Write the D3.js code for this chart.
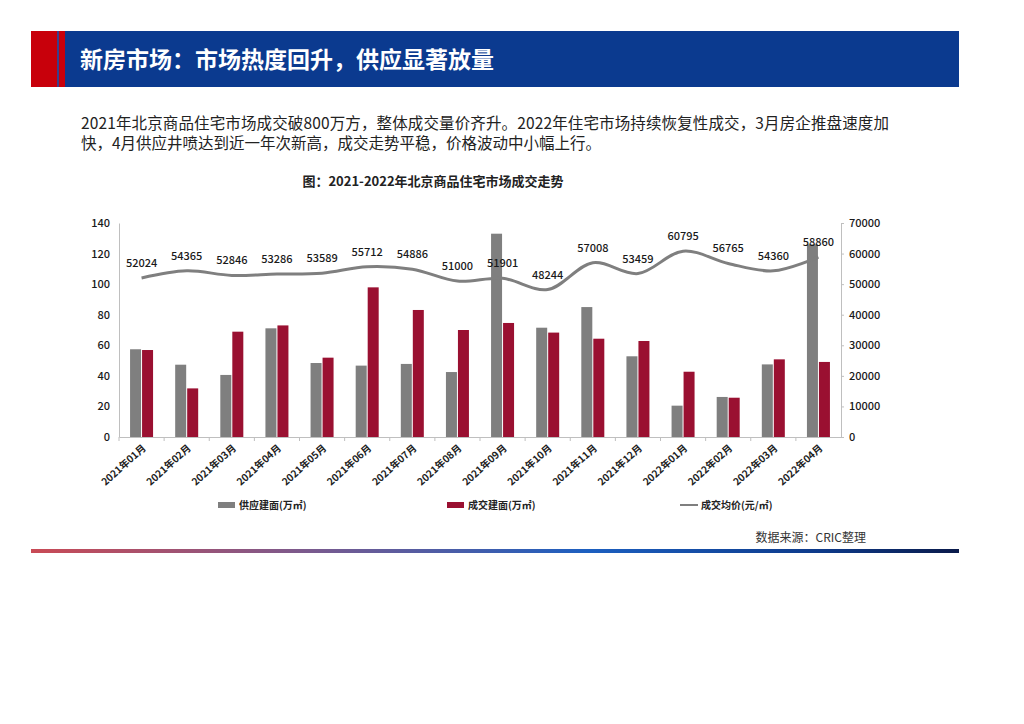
<!DOCTYPE html>
<html>
<head>
<meta charset="utf-8">
<script src="https://cdn.jsdelivr.net/npm/d3@7"></script>
<style>
  body { margin: 0; background: #fff; }
  text { font-family: "Noto Sans CJK SC", "Noto Sans", sans-serif; }
</style>
</head>
<body>
<div id="page"></div>
<script>
// chart data
var months = ["2021年01月", "2021年02月", "2021年03月", "2021年04月", "2021年05月", "2021年06月",
    "2021年07月", "2021年08月", "2021年09月", "2021年10月", "2021年11月", "2021年12月",
    "2022年01月", "2022年02月", "2022年03月", "2022年04月"];
var supply = [57.4, 47.3, 40.6, 71.1, 48.4, 46.7, 47.8, 42.5, 133.0, 71.5, 85.0, 52.8, 20.5, 26.2, 47.5, 126.0];
var deals = [56.9, 31.8, 68.9, 73.0, 51.9, 97.9, 83.1, 70.0, 74.6, 68.3, 64.3, 62.8, 42.7, 25.7, 50.8, 49.1];
var price = [52024, 54365, 52846, 53286, 53589, 55712, 54886, 51000, 51901, 48244, 57008, 53459, 60795, 56765, 54360, 58860];
var leftTicks = [0, 20, 40, 60, 80, 100, 120, 140];
var rightTicks = [0, 10000, 20000, 30000, 40000, 50000, 60000, 70000];
var legendNames = ["供应建面(万㎡)", "成交建面(万㎡)", "成交均价(元/㎡)"];

const w = 1024;
const h = 724;
const grayC = "#7f7f7f";
const redC = "#9a1031";

const svg = d3.select("#page")
    .append("svg")
    .attr("width", w)
    .attr("height", h);

// header bar
svg.append("rect").attr("x", 31).attr("y", 31).attr("width", 928).attr("height", 56).attr("fill", "#0b3a8f");
svg.append("rect").attr("x", 31).attr("y", 31).attr("width", 34).attr("height", 56).attr("fill", "#c8000b");
svg.append("rect").attr("x", 57).attr("y", 31).attr("width", 2).attr("height", 56).attr("fill", "#3a3f8c");
svg.append("text")
    .attr("x", 80).attr("y", 68)
    .attr("fill", "#fff")
    .attr("font-size", 23)
    .attr("font-weight", "bold")
    .text("新房市场：市场热度回升，供应显著放量");

// intro text
svg.append("text")
    .attr("x", 81).attr("y", 129)
    .attr("font-size", 15.5).attr("fill", "#222")
    .attr("textLength", 808).attr("lengthAdjust", "spacing")
    .text("2021年北京商品住宅市场成交破800万方，整体成交量价齐升。2022年住宅市场持续恢复性成交，3月房企推盘速度加");
svg.append("text")
    .attr("x", 81).attr("y", 149)
    .attr("font-size", 15.5).attr("fill", "#222")
    .text("快，4月供应井喷达到近一年次新高，成交走势平稳，价格波动中小幅上行。");

// chart title
svg.append("text")
    .attr("x", 433).attr("y", 186)
    .attr("text-anchor", "middle")
    .attr("font-size", 13).attr("font-weight", "bold").attr("fill", "#222")
    .text("图：2021-2022年北京商品住宅市场成交走势");

// scales
const xScale = d3.scaleBand()
    .domain(months)
    .range([119, 841]);

const yLeft = d3.scaleLinear()
    .domain([0, 140])
    .range([437, 223]);

const yRight = d3.scaleLinear()
    .domain([0, 70000])
    .range([437, 223]);

const barW = 11;

// bars
svg.selectAll("rect.supply")
    .data(supply)
    .enter()
    .append("rect")
    .attr("class", "supply")
    .attr("x", (d, i) => xScale(months[i]) + xScale.bandwidth() / 2 - barW - 0.5)
    .attr("y", (d) => yLeft(d))
    .attr("width", barW)
    .attr("height", (d) => yLeft(0) - yLeft(d))
    .attr("fill", grayC);

svg.selectAll("rect.deal")
    .data(deals)
    .enter()
    .append("rect")
    .attr("class", "deal")
    .attr("x", (d, i) => xScale(months[i]) + xScale.bandwidth() / 2 + 0.5)
    .attr("y", (d) => yLeft(d))
    .attr("width", barW)
    .attr("height", (d) => yLeft(0) - yLeft(d))
    .attr("fill", redC);

// price line
const line = d3.line()
    .x((d, i) => xScale(months[i]) + xScale.bandwidth() / 2)
    .y((d) => yRight(d))
    .curve(d3.curveCatmullRom);

svg.append("path")
    .datum(price)
    .attr("d", line)
    .attr("fill", "none")
    .attr("stroke", grayC)
    .attr("stroke-width", 3);

svg.selectAll("text.price")
    .data(price)
    .enter()
    .append("text")
    .attr("class", "price")
    .attr("x", (d, i) => xScale(months[i]) + xScale.bandwidth() / 2)
    .attr("y", (d) => yRight(d) - 11)
    .attr("text-anchor", "middle")
    .attr("font-size", 11).attr("font-weight", 500).attr("fill", "#1a1a1a")
    .text((d) => d);

// axes
const xAxis = d3.axisBottom(xScale).tickSize(0).tickFormat("");
const gx = svg.append("g")
    .attr("transform", "translate(0,437)")
    .call(xAxis);
gx.select(".domain").attr("stroke", "#bfbfbf");

// category separator ticks
svg.selectAll("line.sep")
    .data(months)
    .enter()
    .append("line")
    .attr("class", "sep")
    .attr("x1", (d) => xScale(d))
    .attr("x2", (d) => xScale(d))
    .attr("y1", 437).attr("y2", 441)
    .attr("stroke", "#bfbfbf");

svg.selectAll("text.month")
    .data(months)
    .enter()
    .append("text")
    .attr("class", "month")
    .attr("transform", (d) => "translate(" + (xScale(d) + xScale.bandwidth() / 2 + 5) + ",449) rotate(-42)")
    .attr("text-anchor", "end")
    .attr("font-size", 10).attr("font-weight", "bold").attr("fill", "#222")
    .text((d) => d);

const leftAxis = d3.axisLeft(yLeft).tickValues(leftTicks).tickSize(0).tickPadding(9);
const gl = svg.append("g")
    .attr("transform", "translate(119,0)")
    .call(leftAxis);
gl.select(".domain").attr("stroke", "#bfbfbf");
gl.selectAll("text")
    .attr("font-size", 11).attr("font-weight", 500).attr("fill", "#1a1a1a")
    .style("font-family", "'Noto Sans CJK SC', sans-serif");

const rightAxis = d3.axisRight(yRight).tickValues(rightTicks).tickFormat(d3.format("d")).tickSize(3).tickPadding(5);
const gr = svg.append("g")
    .attr("transform", "translate(841,0)")
    .call(rightAxis);
gr.select(".domain").attr("stroke", "#bfbfbf");
gr.selectAll(".tick line").attr("stroke", "#bfbfbf");
gr.selectAll("text")
    .attr("font-size", 11).attr("font-weight", 500).attr("fill", "#1a1a1a")
    .style("font-family", "'Noto Sans CJK SC', sans-serif");

// legend
var legendX = [218, 447, 680];
var legend = svg.selectAll("g.legend")
    .data(legendNames)
    .enter()
    .append("g")
    .attr("class", "legend")
    .attr("transform", (d, i) => "translate(" + legendX[i] + ",505)");

legend.each(function (d, i) {
    var g = d3.select(this);
    if (i < 2) {
        g.append("rect").attr("x", 0).attr("y", -3).attr("width", 17).attr("height", 6)
            .attr("fill", i === 0 ? grayC : redC);
    } else {
        g.append("line").attr("x1", 0).attr("x2", 18).attr("y1", 0).attr("y2", 0)
            .attr("stroke", grayC).attr("stroke-width", 2);
    }
    g.append("text").attr("x", 21).attr("y", 4)
        .attr("font-size", 10).attr("font-weight", "bold").attr("fill", "#222")
        .text(d);
});

// source + footer line
svg.append("text")
    .attr("x", 866).attr("y", 542)
    .attr("text-anchor", "end")
    .attr("font-size", 12).attr("fill", "#333")
    .text("数据来源：CRIC整理");

const grad = svg.append("defs").append("linearGradient").attr("id", "foot");
grad.append("stop").attr("offset", "0%").attr("stop-color", "#c94a55");
grad.append("stop").attr("offset", "30%").attr("stop-color", "#7a5a8e");
grad.append("stop").attr("offset", "60%").attr("stop-color", "#1c5fc0");
grad.append("stop").attr("offset", "85%").attr("stop-color", "#0d3a8a");
grad.append("stop").attr("offset", "100%").attr("stop-color", "#0a1a4a");
svg.append("rect")
    .attr("x", 31).attr("y", 549).attr("width", 928).attr("height", 4)
    .attr("fill", "url(#foot)");
</script>
</body>
</html>
